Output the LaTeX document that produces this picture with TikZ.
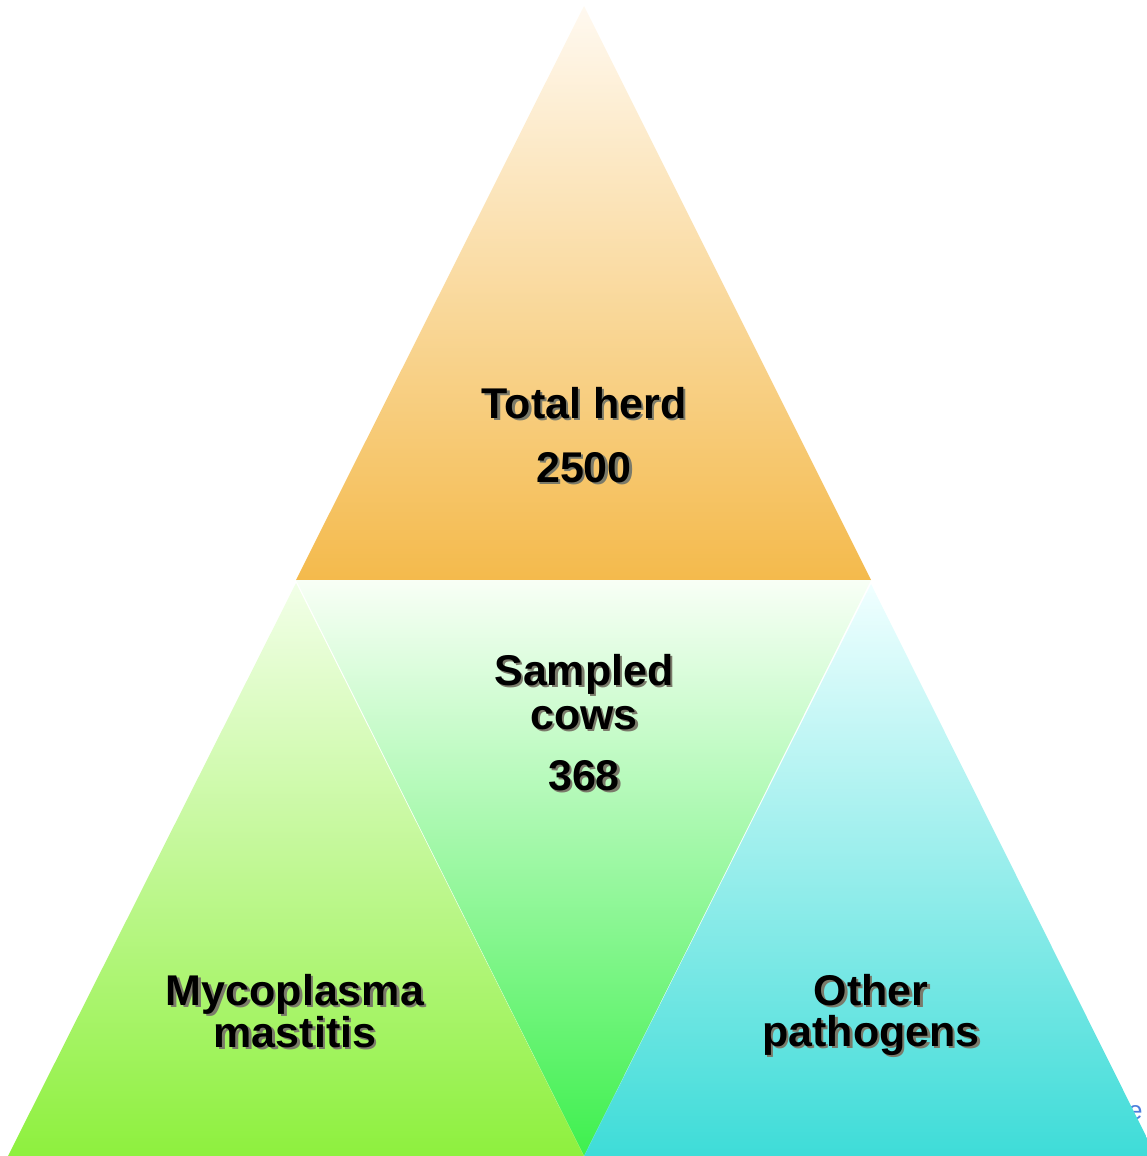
\documentclass[tikz,border=0pt]{standalone}
\usepackage{fontspec}
\setmainfont{Liberation Sans}
\definecolor{topA}{HTML}{FFF9F0}
\definecolor{topB}{HTML}{F4BA4C}
\definecolor{midA}{HTML}{F8FFF6}
\definecolor{midB}{HTML}{3EF04E}
\definecolor{leftA}{HTML}{F2FFE8}
\definecolor{leftB}{HTML}{8EF03E}
\definecolor{rightA}{HTML}{F0FFFF}
\definecolor{rightB}{HTML}{3EDCD8}
\definecolor{linkblue}{HTML}{4C7EDC}
\definecolor{shadowgray}{HTML}{7A7A6A}
\newcommand{\shtext}[1]{\leavevmode\rlap{\kern2.4pt\raisebox{-2.4pt}{\textcolor{shadowgray}{#1}}}#1}
\tikzset{
  lbl/.style={font=\bfseries\fontsize{43}{45}\selectfont, text=black, inner sep=0pt, anchor=base}
}
\begin{document}
\begin{tikzpicture}[x=1pt,y=-1pt]
\useasboundingbox (0,0) rectangle (1147,1156);
\clip (0,0) rectangle (1147,1156);
% triangles
\coordinate (tA) at (584,6);
\coordinate (tL) at (296,580);
\coordinate (tR) at (871,580);
\coordinate (bM) at (584,1156);
\coordinate (lA) at (296,583);
\coordinate (lL) at (8,1156);
\coordinate (rA) at (871,584);
\coordinate (rR) at (1156,1156);
\shade[top color=topA, bottom color=topB] (tA) -- (tR) -- (tL) -- cycle;
\shade[top color=midA, bottom color=midB] (tL) -- (tR) -- (bM) -- cycle;
\shade[top color=leftA, bottom color=leftB] (lA) -- (bM) -- (lL) -- cycle;
\node[font=\fontsize{26}{28}\selectfont, text=linkblue, inner sep=0pt, anchor=base west] (frag) at (1128,1119) {e};
\shade[top color=rightA, bottom color=rightB] (rA) -- (rR) -- (bM) -- cycle;
% labels
\node[lbl] (t1) at (584,418) {\shtext{Total herd}};
\node[lbl] (t2) at (584,482) {\shtext{2500}};
\node[lbl] (s1) at (584,685) {\shtext{Sampled}};
\node[lbl] (s2) at (584,729) {\shtext{cows}};
\node[lbl] (s3) at (584,790) {\shtext{368}};
\node[lbl] (m1) at (295,1005) {\shtext{Mycoplasma}};
\node[lbl] (m2) at (295,1047) {\shtext{mastitis}};
\node[lbl] (o1) at (871,1005) {\shtext{Other}};
\node[lbl] (o2) at (871,1046) {\shtext{pathogens}};
\end{tikzpicture}
\end{document}
